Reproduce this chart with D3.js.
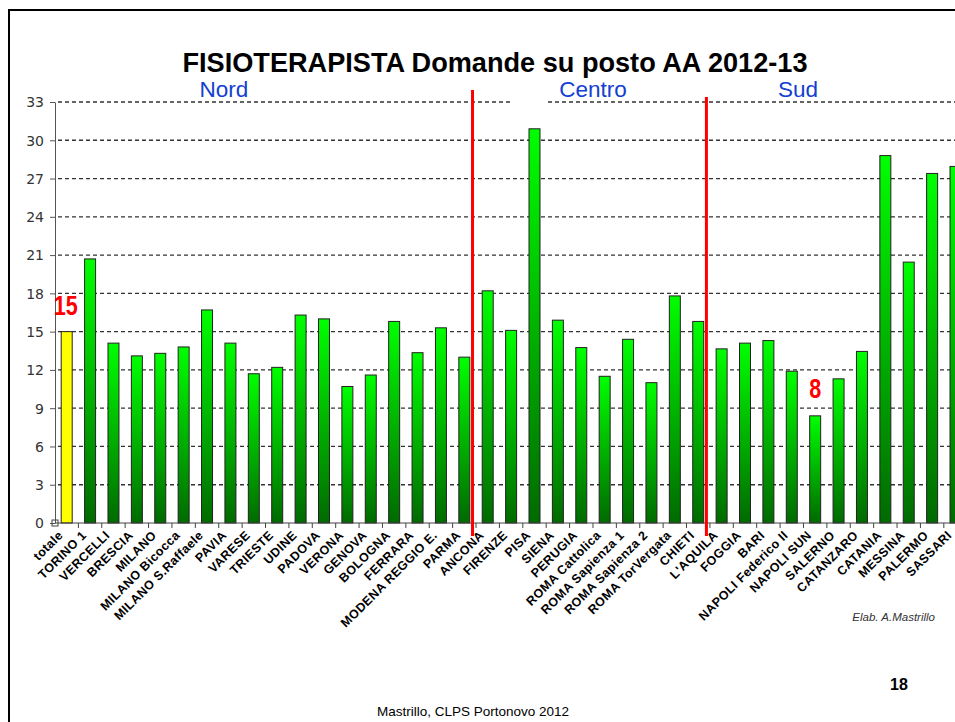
<!DOCTYPE html>
<html>
<head>
<meta charset="utf-8">
<script src="https://cdn.jsdelivr.net/npm/d3@7"></script>
<style>
  body { margin: 0; background: #fff; }
  svg { display: block; }
</style>
</head>
<body>
<svg id="chart" width="955" height="722"></svg>
<script>
// sedi (categorie) e domande su posto
var sedi = ["totale", "TORINO 1", "VERCELLI", "BRESCIA", "MILANO", "MILANO Bicocca",
  "MILANO S.Raffaele", "PAVIA", "VARESE", "TRIESTE", "UDINE", "PADOVA", "VERONA",
  "GENOVA", "BOLOGNA", "FERRARA", "MODENA REGGIO E.", "PARMA", "ANCONA", "FIRENZE",
  "PISA", "SIENA", "PERUGIA", "ROMA Cattolica", "ROMA Sapienza 1", "ROMA Sapienza 2",
  "ROMA TorVergata", "CHIETI", "L'AQUILA", "FOGGIA", "BARI", "NAPOLI Federico II",
  "NAPOLI SUN", "SALERNO", "CATANZARO", "CATANIA", "MESSINA", "PALERMO", "SASSARI"];

var domande = [15.0, 20.7, 14.1, 13.1, 13.3, 13.8,
  16.7, 14.1, 11.7, 12.2, 16.3, 16.0, 10.7,
  11.6, 15.8, 13.35, 15.3, 13.0, 18.2, 15.1,
  30.9, 15.9, 13.75, 11.5, 14.4, 11.0,
  17.8, 15.8, 13.65, 14.1, 14.3, 11.9,
  8.4, 11.3, 13.45, 28.8, 20.45, 27.4, 27.95];

var yTicks = [0, 3, 6, 9, 12, 15, 18, 21, 24, 27, 30, 33];

// aree e prima sede di ognuna
var aree = ["Nord", "Centro", "Sud"];
var inizioArea = ["TORINO 1", "ANCONA", "L'AQUILA"];

// valori evidenziati
var evidenza = [{ sede: "totale", testo: "15" }, { sede: "NAPOLI SUN", testo: "8" }];

var svg = d3.select("#chart");
var defs = svg.append("defs");

var x0 = 55, step = 23.39;
var x = d3.scaleBand()
    .domain(sedi)
    .range([x0, x0 + step * sedi.length])
    .paddingInner(0.53)
    .paddingOuter(0.265);

var y = d3.scaleLinear()
    .domain([0, 33])
    .range([523, 102]);

var centro = function(d) { return x(d) + x.bandwidth() / 2; };
var bordo = function(d) { return x(d) - x.step() * x.paddingOuter(); };

// cornice della slide
svg.append("path")
    .attr("d", "M9,722 V10 H955")
    .attr("fill", "none")
    .attr("stroke", "#000")
    .attr("stroke-width", 2);

// titolo
svg.append("text")
    .attr("x", 495)
    .attr("y", 72)
    .attr("text-anchor", "middle")
    .attr("font-family", "Liberation Sans, Arial, sans-serif")
    .attr("font-weight", "bold")
    .attr("font-size", 28)
    .attr("textLength", 625)
    .attr("lengthAdjust", "spacingAndGlyphs")
    .text("FISIOTERAPISTA Domande su posto AA 2012-13");

// griglia
svg.append("g")
    .selectAll("line")
    .data(yTicks.filter(function(d) { return d > 0; }))
    .enter().append("line")
    .attr("x1", x0 + 3)
    .attr("x2", 955)
    .attr("y1", function(d) { return y(d); })
    .attr("y2", function(d) { return y(d); })
    .attr("stroke", "#333")
    .attr("stroke-width", 1.3)
    .attr("stroke-dasharray", "4,3");

// etichette aree
var areaG = svg.append("g")
    .attr("font-family", "Liberation Sans, Arial, sans-serif")
    .attr("font-size", 22.5)
    .attr("fill", "#1240d0");
var areaX = [224, 593, 798];
areaG.selectAll("rect")
    .data(aree.filter(function(d) { return d == "Centro"; }))
    .enter().append("rect")
    .attr("x", 510).attr("y", 98)
    .attr("width", 38).attr("height", 8)
    .attr("fill", "#fff");
areaG.selectAll("text")
    .data(aree)
    .enter().append("text")
    .attr("x", function(d, i) { return areaX[i]; })
    .attr("y", 97)
    .attr("text-anchor", "middle")
    .text(function(d) { return d; });

// barre
sedi.forEach(function(s, i) {
  var g = defs.append("linearGradient")
      .attr("id", "grad-" + i)
      .attr("x1", 0).attr("y1", 0).attr("x2", 0).attr("y2", 1);
  g.append("stop").attr("offset", "0%").attr("stop-color", "#00ff00");
  g.append("stop").attr("offset", "100%").attr("stop-color", "#006a00");
});

svg.append("g")
    .selectAll("rect")
    .data(sedi)
    .enter().append("rect")
    .attr("x", function(d) { return x(d); })
    .attr("y", function(d, i) { return y(domande[i]); })
    .attr("width", x.bandwidth())
    .attr("height", function(d, i) { return y(0) - y(domande[i]); })
    .attr("fill", function(d, i) { return i == 0 ? "#ffff00" : "url(#grad-" + i + ")"; })
    .attr("stroke", "#222")
    .attr("stroke-width", 1);

// asse y
var yAxis = svg.append("g")
    .attr("transform", "translate(" + x0 + ",0)")
    .call(d3.axisLeft(y).tickValues(yTicks).tickSize(5).tickSizeOuter(0).tickPadding(6));
yAxis.select(".domain").attr("stroke", "#555");
yAxis.selectAll(".tick line").attr("stroke", "#555");
yAxis.selectAll(".tick text")
    .attr("font-family", "DejaVu Sans, sans-serif")
    .attr("font-size", 14)
    .attr("fill", "#333")
    .attr("dy", "0.35em");

// asse x
svg.append("line")
    .attr("x1", x0).attr("x2", 955)
    .attr("y1", y(0)).attr("y2", y(0))
    .attr("stroke", "#444");
svg.append("g")
    .selectAll("line")
    .data(sedi.slice(1))
    .enter().append("line")
    .attr("x1", bordo).attr("x2", bordo)
    .attr("y1", y(0)).attr("y2", y(0) + 5)
    .attr("stroke", "#444");
svg.append("rect")
    .attr("x", x0 - 3).attr("y", y(0) - 3)
    .attr("width", 6).attr("height", 6)
    .attr("fill", "none")
    .attr("stroke", "#444");

// etichette sedi
svg.append("g")
    .attr("font-family", "Liberation Sans, Arial, sans-serif")
    .attr("font-weight", "bold")
    .attr("font-size", 12.5)
    .attr("letter-spacing", 0.4)
    .selectAll("text")
    .data(sedi)
    .enter().append("text")
    .attr("transform", function(d) {
      return "translate(" + (centro(d) - 3) + "," + (y(0) + 13) + ") rotate(-45)";
    })
    .attr("text-anchor", "end")
    .text(function(d) { return d; });

// linee di separazione delle aree
svg.append("g")
    .selectAll("line")
    .data(inizioArea.slice(1))
    .enter().append("line")
    .attr("x1", function(d) { return bordo(d) - 3.5; })
    .attr("x2", function(d) { return bordo(d) - 3.5; })
    .attr("y1", function(d, i) { return i == 0 ? 90 : 97; })
    .attr("y2", 536)
    .attr("stroke", "#ff0000")
    .attr("stroke-width", 3);

// valori evidenziati
svg.append("g")
    .attr("font-family", "Liberation Sans, Arial, sans-serif")
    .attr("font-weight", "bold")
    .attr("font-size", 28)
    .attr("fill", "#ff0000")
    .selectAll("text")
    .data(evidenza)
    .enter().append("text")
    .attr("x", function(d) { return d.sede == "totale" ? centro(d.sede) - 1 : centro(d.sede); })
    .attr("y", function(d) { return d.sede == "totale" ? 315 : 398; })
    .attr("text-anchor", "middle")
    .attr("textLength", function(d) { return d.testo.length * 12; })
    .attr("lengthAdjust", "spacingAndGlyphs")
    .text(function(d) { return d.testo; });

// note
svg.append("text")
    .attr("x", 935).attr("y", 621)
    .attr("text-anchor", "end")
    .attr("font-family", "Liberation Sans, Arial, sans-serif")
    .attr("font-style", "italic")
    .attr("font-size", 11.5)
    .attr("fill", "#333")
    .text("Elab. A.Mastrillo");

svg.append("text")
    .attr("x", 899).attr("y", 690)
    .attr("text-anchor", "middle")
    .attr("font-family", "Liberation Sans, Arial, sans-serif")
    .attr("font-weight", "bold")
    .attr("font-size", 16)
    .text("18");

svg.append("text")
    .attr("x", 473).attr("y", 716)
    .attr("text-anchor", "middle")
    .attr("font-family", "Liberation Sans, Arial, sans-serif")
    .attr("font-size", 13.5)
    .text("Mastrillo, CLPS Portonovo 2012");
</script>
</body>
</html>
